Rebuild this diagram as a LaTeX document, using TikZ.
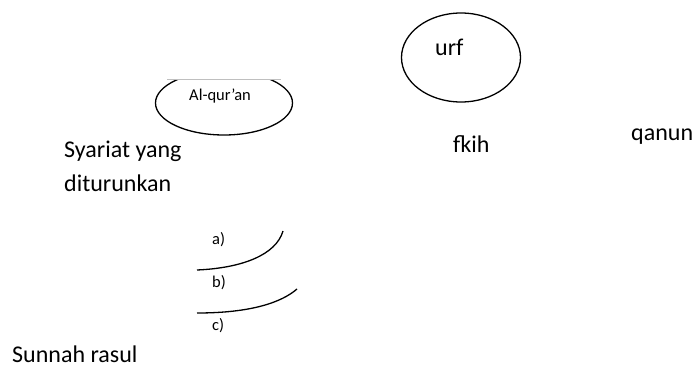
\documentclass[tikz,border=0pt]{standalone}
\usepackage{fontspec}
\setmainfont{Carlito}
\begin{document}
\begin{tikzpicture}[x=1pt,y=-1pt,
  big/.style={font=\fontsize{24}{28}\selectfont, inner sep=0pt, anchor=base west},
  small/.style={font=\fontsize{16.5}{19}\selectfont, inner sep=0pt, anchor=base west},
  line/.style={draw=black, line width=1.3pt}]
\useasboundingbox (0,0) rectangle (693,367);
% Al-qur'an ellipse, clipped at top
\begin{scope}
  \clip (140,79) rectangle (310,150);
  \draw[line] (224,103) ellipse [x radius=68.5, y radius=32];
\end{scope}
\draw[gray!50, line width=0.6pt] (167,79) -- (281,79);
\node[small] (alquran) at (189,100) {Al-qur’an};
% urf ellipse
\draw[line] (461,57.5) ellipse [x radius=59.5, y radius=44.5];
\node[big] (urf) at (435,55) {urf};
% texts
\node[big] (syariat) at (64,157) {Syariat yang};
\node[big] (diturunkan) at (64,191) {diturunkan};
\node[big] (fkih) at (453,152) {fkih};
\node[big] (qanun) at (631,140) {qanun};
\node[big] (sunnah) at (12,362) {Sunnah rasul};
% labels
\node[small] (la) at (212,244) {a)};
\node[small] (lb) at (212,287) {b)};
\node[small] (lc) at (212,330) {c)};
% curves
\draw[line] (197,270) .. controls (242,268) and (276,255) .. (283,231);
\draw[line] (197,313) .. controls (252,313) and (282,302) .. (297,289);
\end{tikzpicture}
\end{document}
